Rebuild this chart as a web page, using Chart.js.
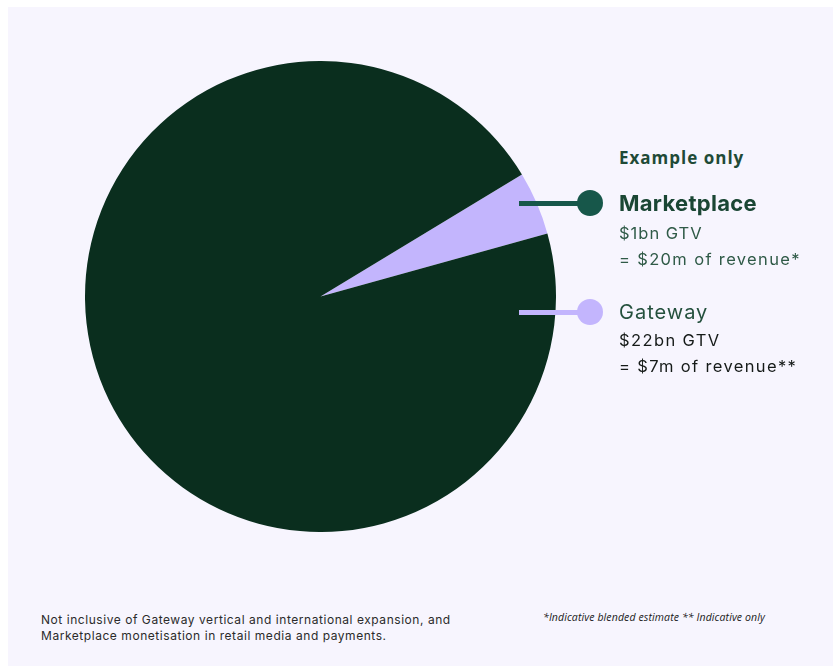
<!DOCTYPE html>
<html>
<head>
<meta charset="utf-8">
<script src="https://cdn.jsdelivr.net/npm/chart.js@4.4.1/dist/chart.umd.min.js"></script>
<style>
  html, body { margin: 0; padding: 0; background: #ffffff; }
  body { width: 833px; height: 667px; position: relative; overflow: hidden; font-family: Inter, "Noto Sans", sans-serif; }
  #panel { position: absolute; left: 8px; top: 7px; width: 825px; height: 659px; background: #f7f5fe; }
  #chartBox { position: absolute; left: 85px; top: 61px; width: 471px; height: 471px; }
  .t { position: absolute; white-space: nowrap; line-height: 1; }
  .line { position: absolute; height: 5px; }
  .dot { position: absolute; width: 26px; height: 26px; border-radius: 50%; }
</style>
</head>
<body>
<div id="panel"></div>
<div id="chartBox"><canvas id="c" width="471" height="471"></canvas></div>

<div class="line" style="left:519px; top:201px; width:62px; background:#17574a;"></div>
<div class="dot" style="left:577px; top:190px; background:#17574a;"></div>
<div class="line" style="left:519px; top:310px; width:62px; background:#c3b5fd;"></div>
<div class="dot" style="left:577px; top:299px; background:#c3b5fd;"></div>

<div id="ex" class="t" style="left:619px; top:149px; font-family:'Open Sans'; font-weight:700; font-size:17px; color:#1f4a37; letter-spacing:1px;"></div>
<div id="m1" class="t" style="left:619px; top:192px; font-weight:700; font-size:22px; color:#1a4634; letter-spacing:0.3px;"></div>
<div id="m2" class="t" style="left:619px; top:225px; font-size:16.5px; color:#2f5a47; letter-spacing:1px;"></div>
<div id="m3" class="t" style="left:619px; top:251px; font-size:16.5px; color:#2f5a47; letter-spacing:1.35px;"></div>
<div id="g1" class="t" style="left:619px; top:302px; font-size:20px; color:#24503d; letter-spacing:1px;"></div>
<div id="g2" class="t" style="left:619px; top:332px; font-size:16.5px; color:#151a18; letter-spacing:1.4px;"></div>
<div id="g3" class="t" style="left:619px; top:358px; font-size:16.5px; color:#151a18; letter-spacing:1.35px;"></div>

<div id="fn" class="t" style="left:41px; top:612px; font-size:12px; color:#2b2b2b; line-height:15.5px; letter-spacing:0.55px;"></div>
<div id="fn2" class="t" style="left:543px; top:612px; font-family:'Open Sans'; font-style:italic; font-size:10.5px; color:#1a1a1a; letter-spacing:0.12px;"></div>

<script>
// ---- Data ----
const sliceLabels = ['Marketplace GTV', 'Gateway GTV'];
const gtvBn = [1, 22];
const sliceColors = ['#c3b5fd', '#0a2e1e'];

const legendTitle = 'Example only';
const legendNames = ['Marketplace', 'Gateway'];
const legendGtv = ['$1bn GTV', '$22bn GTV'];
const legendRevenue = ['= $20m of revenue*', '= $7m of revenue**'];
const footnoteLines = ['Not inclusive of Gateway vertical and international expansion, and', 'Marketplace monetisation in retail media and payments.'];
const footnoteRight = '*Indicative blended estimate ** Indicative only';

document.getElementById('ex').textContent = legendTitle;
document.getElementById('m1').textContent = legendNames[0];
document.getElementById('m2').textContent = legendGtv[0];
document.getElementById('m3').textContent = legendRevenue[0];
document.getElementById('g1').textContent = legendNames[1];
document.getElementById('g2').textContent = legendGtv[1];
document.getElementById('g3').textContent = legendRevenue[1];
document.getElementById('fn').innerHTML = footnoteLines.join('<br>');
document.getElementById('fn2').textContent = footnoteRight;

new Chart(document.getElementById('c'), {
  type: 'pie',
  data: {
    labels: sliceLabels,
    datasets: [{
      data: gtvBn,
      backgroundColor: sliceColors,
      borderWidth: 0,
      hoverOffset: 0
    }]
  },
  options: {
    responsive: false,
    animation: false,
    rotation: 58.8,
    layout: { padding: 0 },
    plugins: { legend: { display: false }, tooltip: { enabled: false } }
  }
});
</script>
</body>
</html>
